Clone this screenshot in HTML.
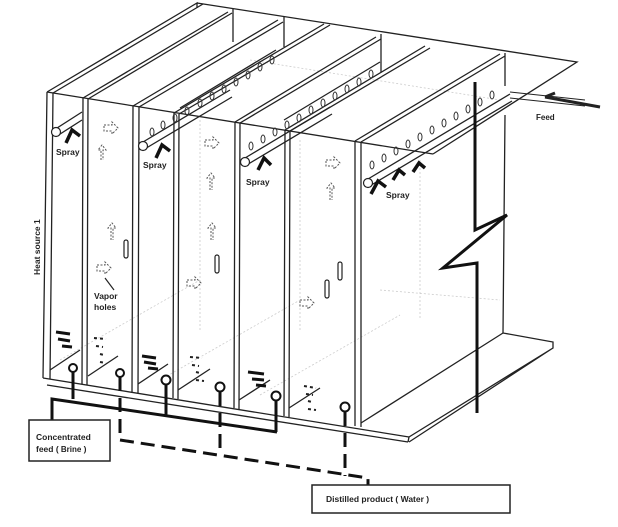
<!DOCTYPE html>
<html><head><meta charset="utf-8"><style>
html,body{margin:0;padding:0;background:#fff;}
svg{display:block;}
text{font-family:"Liberation Sans",sans-serif;font-weight:bold;fill:#222;}
</style></head><body>
<svg width="618" height="527" viewBox="0 0 618 527" xmlns="http://www.w3.org/2000/svg">
<g fill="none" stroke="#ccc" stroke-width="0.8" stroke-dasharray="2,2">
<path d="M60 360 L200 280 M160 380 L300 300 M260 395 L400 315 M200 120 L200 330 M300 140 L300 330 M420 160 L420 320 M250 60 L500 100 M380 290 L500 300"/>
</g>
<g fill="none" stroke="#222" stroke-width="1.3">
<!-- top back edge -->
<path d="M197 3 L577 62 L433 154"/>
<!-- front top edge -->
<path d="M47 92 L433 154"/>
<!-- front bottom edge -->
<path d="M43 378 L409 437 M47 385 L408 442"/>
<!-- wall front edges -->
<path d="M47 92 L43 378 M53 93 L50 379"/>
<path d="M83 98 L82 384 M88 99 L87 385"/>
<path d="M133 106 L132 392 M139 107 L138 393"/>
<path d="M174 113 L173 398 M179 114 L178 399"/>
<path d="M235 122 L234 408 M240 123 L239 409"/>
<path d="M285 130 L284 416 M290 131 L289 417"/>
<path d="M355 141 L355 426 M361 142 L361 427"/>
<!-- wall tops going back -->
<path d="M47 92 L197 3 L197 8"/>
<path d="M53 93 L203 4"/>
<path d="M88 99 L232 13 M83 98 L228 12 M233 9 L233 42"/>
<path d="M139 107 L283 22 M133 106 L278 20 M284 17 L284 47"/>
<path d="M179 114 L330 25 M174 113 L324 24"/>
<path d="M240 123 L381 39 M235 122 L376 37 M381 34 L381 72"/>
<path d="M290 131 L430 48 M285 130 L425 46"/>
<path d="M361 142 L505 56 M355 141 L500 54 M505 53 L505 86 M505 115 L503 333"/>
<!-- inner bottom diagonals -->
<path d="M50 370 L80 350 M88 376 L118 356 M138 384 L168 364 M178 390 L210 369 M239 400 L270 380 M289 408 L320 388"/>
<!-- base plate -->
<path d="M361 423 L503 333 L553 342 L553 348 L409 437 L408 442 M553 348 L409 442"/>
<!-- spray tubes -->
<path d="M57 128 L82 112 M57 136 L82 120"/>
<path d="M143 142 L230 90 M143 150 L232 97"/>
<path d="M245 158 L330 107 M245 166 L332 114"/>
<path d="M368 179 L510 94 M368 187 L512 101"/>
<path d="M180 108 L276 50 M284 120 L380 62"/>
</g>
<g fill="#fff" stroke="#222" stroke-width="1.2">
<circle cx="56" cy="132" r="4.5"/><circle cx="143" cy="146" r="4.5"/><circle cx="245" cy="162" r="4.5"/><circle cx="368" cy="183" r="4.5"/>
</g>
<g fill="none" stroke="#333" stroke-width="1">
<ellipse cx="152" cy="132" rx="2" ry="4"/><ellipse cx="163" cy="125" rx="2" ry="4"/><ellipse cx="175" cy="118" rx="2" ry="4"/><ellipse cx="187" cy="111" rx="2" ry="4"/><ellipse cx="200" cy="103" rx="2" ry="4"/><ellipse cx="212" cy="96" rx="2" ry="4"/><ellipse cx="224" cy="89" rx="2" ry="4"/><ellipse cx="236" cy="82" rx="2" ry="4"/><ellipse cx="248" cy="75" rx="2" ry="4"/><ellipse cx="260" cy="67" rx="2" ry="4"/><ellipse cx="272" cy="60" rx="2" ry="4"/>
<ellipse cx="251" cy="146" rx="2" ry="4"/><ellipse cx="263" cy="139" rx="2" ry="4"/><ellipse cx="275" cy="132" rx="2" ry="4"/><ellipse cx="287" cy="125" rx="2" ry="4"/><ellipse cx="299" cy="118" rx="2" ry="4"/><ellipse cx="311" cy="110" rx="2" ry="4"/><ellipse cx="323" cy="103" rx="2" ry="4"/><ellipse cx="335" cy="96" rx="2" ry="4"/><ellipse cx="347" cy="89" rx="2" ry="4"/><ellipse cx="359" cy="82" rx="2" ry="4"/><ellipse cx="371" cy="74" rx="2" ry="4"/>
<ellipse cx="372" cy="165" rx="2" ry="4"/><ellipse cx="384" cy="158" rx="2" ry="4"/><ellipse cx="396" cy="151" rx="2" ry="4"/><ellipse cx="408" cy="144" rx="2" ry="4"/><ellipse cx="420" cy="137" rx="2" ry="4"/><ellipse cx="432" cy="130" rx="2" ry="4"/><ellipse cx="444" cy="123" rx="2" ry="4"/><ellipse cx="456" cy="116" rx="2" ry="4"/><ellipse cx="468" cy="109" rx="2" ry="4"/><ellipse cx="480" cy="102" rx="2" ry="4"/><ellipse cx="492" cy="95" rx="2" ry="4"/>
</g>
<!-- feed pipe -->
<g fill="none" stroke="#222">
<path d="M510 92 L585 100 M510 98 L585 106" stroke-width="1"/>
<path d="M545 97 L600 107" stroke-width="3"/>
<path d="M545 97 L555 93" stroke-width="3"/>
</g>
<!-- spray arrows -->
<g fill="none" stroke="#111" stroke-width="3.5">
<path d="M66 143 L72 130 L80 136"/>
<path d="M156 158 L162 145 L170 151"/>
<path d="M258 170 L264 158 L271 165"/>
<path d="M371 194 L378 181 L386 187 M393 180 L399 170 L405 175 M413 172 L419 163 L425 168"/>
</g>
<!-- zigzag -->
<path d="M475 82 L475 230 L507 215 L443 268 L477 263 L477 413" fill="none" stroke="#111" stroke-width="3"/>
<!-- vapor arrows (dashed) -->
<g fill="none" stroke="#555" stroke-width="1" stroke-dasharray="2,1.5">
<path d="M104 125 L112 125 L112 122 L118 128 L112 134 L112 131 L104 131 Z"/>
<path d="M205 140 L213 140 L213 137 L219 143 L213 149 L213 146 L205 146 Z"/>
<path d="M326 160 L334 160 L334 157 L340 163 L334 169 L334 166 L326 166 Z"/>
<path d="M97 265 L105 265 L105 262 L111 268 L105 274 L105 271 L97 271 Z"/>
<path d="M187 280 L195 280 L195 277 L201 283 L195 289 L195 286 L187 286 Z"/>
<path d="M300 300 L308 300 L308 297 L314 303 L308 309 L308 306 L300 306 Z"/>
<path d="M101 160 L101 150 L98 150 L102 145 L106 150 L103 150 L103 160"/>
<path d="M111 240 L111 228 L108 228 L112 223 L116 228 L113 228 L113 240"/>
<path d="M210 190 L210 178 L207 178 L211 173 L215 178 L212 178 L212 190"/>
<path d="M211 240 L211 228 L208 228 L212 223 L216 228 L213 228 L213 240"/>
<path d="M330 200 L330 188 L327 188 L331 183 L335 188 L332 188 L332 200"/>
</g>
<g fill="none" stroke="#222" stroke-width="1.2">
<rect x="124" y="240" width="4" height="18" rx="2"/><rect x="215" y="255" width="4" height="18" rx="2"/><rect x="325" y="280" width="4" height="18" rx="2"/><rect x="338" y="262" width="4" height="18" rx="2"/>
<path d="M105 278 L114 290"/>
</g>
<!-- brine bars -->
<g stroke="#111" stroke-width="3">
<path d="M56 332 L70 334 M58 339 L70 341 M62 346 L72 347"/>
<path d="M142 356 L156 358 M144 362 L156 364 M148 368 L158 369"/>
<path d="M248 372 L264 374 M252 379 L264 380 M256 385 L266 386"/>
</g>
<g stroke="#222" stroke-width="2" stroke-dasharray="3,3">
<path d="M94 338 L106 339 M96 346 L103 347 M100 354 L104 355 M100 362 L106 363"/>
<path d="M190 357 L202 358 M192 365 L199 366 M196 372 L200 373 M196 380 L204 381"/>
<path d="M304 386 L316 388 M306 394 L313 395 M308 401 L312 402 M308 409 L316 410"/>
</g>
<!-- outlets -->
<g fill="#fff" stroke="#111" stroke-width="2">
<circle cx="73" cy="368" r="4"/><circle cx="120" cy="373" r="4"/><circle cx="166" cy="380" r="4.5"/><circle cx="220" cy="387" r="4.5"/><circle cx="276" cy="396" r="4.5"/><circle cx="345" cy="407" r="4.5"/>
</g>
<!-- brine piping -->
<g fill="none" stroke="#111" stroke-width="3">
<path d="M73 372 L73 399 M52 420 L52 399 L277 432 M166 385 L166 415 M276 401 L276 432"/>
</g>
<g fill="none" stroke="#111" stroke-width="3" stroke-dasharray="14,7">
<path d="M120 377 L120 440 L368 478 L368 485"/>
<path d="M220 392 L220 455"/>
<path d="M345 412 L345 476"/>
</g>
<g fill="#fff" stroke="#222" stroke-width="1.5">
<rect x="29" y="420" width="81" height="41"/>
<rect x="312" y="485" width="198" height="28"/>
</g>
<text x="36" y="440" font-size="8.5" font-weight="normal">Concentrated</text>
<text x="36" y="452" font-size="8.5" font-weight="normal">feed (<tspan font-weight="bold" font-size="8"> Brine </tspan>)</text>
<text x="326" y="502" font-size="8.5" font-weight="normal">Distilled product ( <tspan font-weight="bold">Water</tspan>    )</text>
<text x="56" y="155" font-size="8.5">Spray</text>
<text x="143" y="168" font-size="8.5">Spray</text>
<text x="246" y="185" font-size="8.5">Spray</text>
<text x="386" y="198" font-size="8.5">Spray</text>
<text x="536" y="120" font-size="8">Feed</text>
<text x="94" y="299" font-size="8.5">Vapor</text>
<text x="94" y="310" font-size="8.5">holes</text>
<text transform="translate(40,275) rotate(-90)" font-size="8.5">Heat source 1</text>
</svg>
</body></html>
